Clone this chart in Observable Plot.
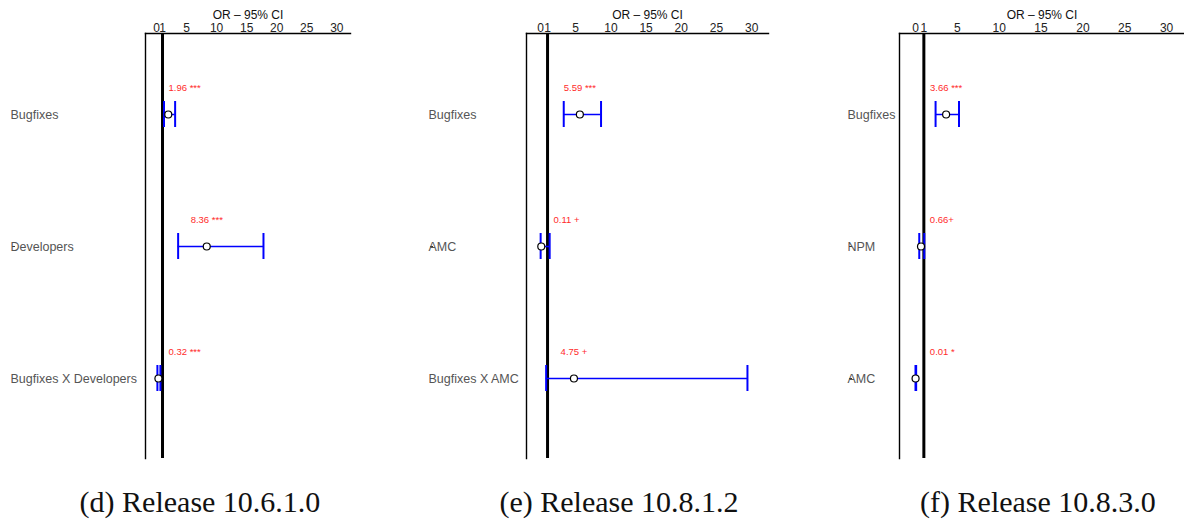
<!DOCTYPE html>
<html><head><meta charset="utf-8">
<script src="https://cdn.jsdelivr.net/npm/d3@7"></script>
<script src="https://cdn.jsdelivr.net/npm/@observablehq/plot@0.6"></script>
<style>
body{margin:0;background:#fff;width:1184px;height:520px;position:relative;overflow:hidden;font-family:"Liberation Sans",Arial,sans-serif}
.panel{position:absolute;top:0}
.cap{position:absolute;top:487px;width:400px;text-align:center;font-family:"Liberation Serif","Times New Roman",serif;font-size:30px;line-height:30px;color:#111;white-space:nowrap}
</style></head><body>
<script>
// ---- data ----
const termsD = ["Bugfixes", "Developers", "Bugfixes X Developers"];
const orD = [1.96, 8.36, 0.32];
const loD = [1.25, 3.6, 0.15];
const hiD = [3.1, 17.8, 0.65];
const sigD = [" ***", " ***", " ***"];

const termsE = ["Bugfixes", "AMC", "Bugfixes X AMC"];
const orE = [5.59, 0.11, 4.75];
const loE = [3.3, 0.02, 0.8];
const hiE = [8.6, 1.3, 29.4];
const sigE = [" ***", " +", " +"];

const termsF = ["Bugfixes", "NPM", "AMC"];
const orF = [3.66, 0.66, 0.01];
const loF = [2.4, 0.45, 0.001];
const hiF = [5.2, 1.05, 0.08];
const sigF = [" ***", "+", " *"];

const xTicks = [0, 1, 5, 10, 15, 20, 25, 30];
const axisTitle = "OR – 95% CI";
const captions = ["(d) Release 10.6.1.0", "(e) Release 10.8.1.2", "(f) Release 10.8.3.0"];

// ---- layout ----
const panels = [
  {terms: termsD, or: orD, lo: loD, hi: hiD, sig: sigD, left: 0,   width: 355, marginLeft: 145, marginRight: 5, domain: [-1.83, 32.28], labelStart: 10, capCenter: 200},
  {terms: termsE, or: orE, lo: loE, hi: hiE, sig: sigE, left: 420, width: 353, marginLeft: 106, marginRight: 5, domain: [-1.99, 32.39], labelStart: 8,  capCenter: 619},
  {terms: termsF, or: orF, lo: loF, hi: hiF, sig: sigF, left: 840, width: 344, marginLeft: 59,  marginRight: 0, domain: [-1.91, 32.14], labelStart: 7,  capCenter: 1038}
];

const redFont = 9.5;
const ctx = document.createElement("canvas").getContext("2d");
ctx.font = `${redFont}px "Liberation Sans"`;

panels.forEach((p, k) => {
  const sx = d3.scaleLinear(p.domain, [p.marginLeft, p.width - p.marginRight]);
  const rows = p.terms.map((t, i) => {
    const label = p.or[i].toFixed(2) + p.sig[i];
    const w = ctx.measureText(label).width;
    const lx = Math.max(p.or[i], sx.invert(sx(1) + 6 + w / 2));
    return {term: t, or: p.or[i], lo: p.lo[i], hi: p.hi[i], label, lx};
  });
  const chart = Plot.plot({
    width: p.width,
    height: 462,
    marginTop: 33,
    marginBottom: 4,
    marginLeft: p.marginLeft,
    marginRight: p.marginRight,
    style: {fontFamily: '"Liberation Sans", Arial, sans-serif', fontSize: "12.5px", background: "transparent", color: "#222"},
    x: {domain: p.domain},
    y: {type: "band", domain: p.terms, paddingInner: 0.804, paddingOuter: 0.506},
    marks: [
      Plot.frame({anchor: "top", stroke: "#000", strokeWidth: 1.4}),
      Plot.frame({anchor: "left", stroke: "#000", strokeWidth: 1.4}),
      Plot.ruleX([1], {stroke: "#000", strokeWidth: 3}),
      Plot.axisX(xTicks, {anchor: "top", tickSize: 0, tickPadding: 2, label: null, fill: "#222", fontSize: 12}),
      Plot.text([axisTitle], {frameAnchor: "top", lineAnchor: "middle", dy: -18, fill: "#111", fontSize: 12}),
      Plot.axisY({tickSize: 3, tickPadding: 2, textAnchor: "start", dx: p.labelStart - p.marginLeft + 5, fill: "#555", stroke: "#333", label: null}),
      Plot.ruleY(rows, {y: "term", x1: "lo", x2: "hi", stroke: "#0000ff", strokeWidth: 1.5}),
      Plot.tickX(rows, {y: "term", x: "lo", stroke: "#0000ff", strokeWidth: 2}),
      Plot.tickX(rows, {y: "term", x: "hi", stroke: "#0000ff", strokeWidth: 2}),
      Plot.dot(rows, {y: "term", x: "or", r: 3.5, fill: "white", stroke: "#000", strokeWidth: 1.2}),
      Plot.text(rows, {y: "term", x: "lx", text: "label", dy: -27, fill: "#ff2b2b", fontSize: redFont})
    ]
  });
  const div = document.createElement("div");
  div.className = "panel";
  div.style.left = p.left + "px";
  div.appendChild(chart);
  document.body.appendChild(div);
  const cap = document.createElement("div");
  cap.className = "cap";
  cap.style.left = (p.capCenter - 200) + "px";
  cap.textContent = captions[k];
  document.body.appendChild(cap);
});
</script>
</body></html>
